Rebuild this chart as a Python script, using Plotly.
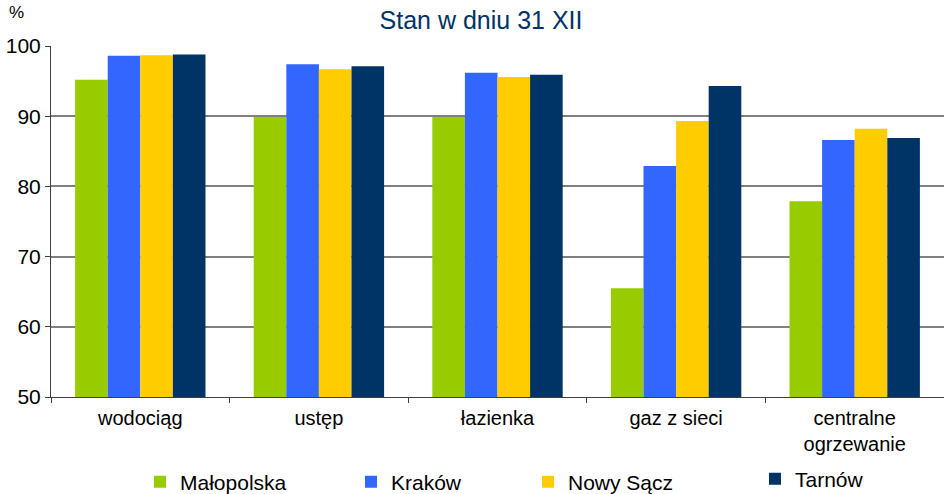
import plotly.graph_objects as go

categories = ["wodociąg", "ustęp", "łazienka", "gaz z sieci", "centralne<br>ogrzewanie"]
series_names = ["Małopolska", "Kraków", "Nowy Sącz", "Tarnów"]
malopolska = [95.2, 89.9, 89.9, 65.5, 77.9]
krakow = [98.6, 97.4, 96.2, 82.9, 86.6]
nowy_sacz = [98.7, 96.7, 95.6, 89.3, 88.2]
tarnow = [98.8, 97.1, 95.9, 94.3, 86.9]
series_values = [malopolska, krakow, nowy_sacz, tarnow]
colors = ["#99CC00", "#3366FF", "#FFCC00", "#003366"]
y_ticks = [50, 60, 70, 80, 90, 100]

FONT = "Liberation Sans, Arial, sans-serif"
W, H = 944, 494
ML, MR, MT, MB = 51, 0, 46, 97
PW = W - ML - MR
PH = H - MT - MB

# legend entries placed individually along the bottom (container pixels)
legend_px = [140, 351, 528, 755]
legend_py = [482, 482, 482, 479]
legend_ids = ["legend", "legend2", "legend3", "legend4"]

fig = go.Figure()
for name, vals, col, lid in zip(series_names, series_values, colors, legend_ids):
    fig.add_trace(go.Bar(
        x=categories, y=vals, name=name, marker_color=col,
        marker_line_width=0, legend=lid,
    ))

layout_legends = {}
for lid, px, py in zip(legend_ids, legend_px, legend_py):
    layout_legends[lid] = dict(
        xref="container", yref="container",
        x=px / W, y=1 - py / H,
        xanchor="left", yanchor="middle",
        orientation="h", bgcolor="rgba(0,0,0,0)",
        font=dict(family=FONT, size=21, color="#000000"),
        itemsizing="constant",
    )

fig.update_layout(
    width=W, height=H,
    margin=dict(l=ML, r=MR, t=MT, b=MB, pad=0),
    paper_bgcolor="white", plot_bgcolor="white",
    barmode="group", bargap=0.27, bargroupgap=0,
    title=dict(text="Stan w dniu 31 XII", x=481 / W, xanchor="center",
               y=1 - 20 / H, yanchor="middle",
               font=dict(family=FONT, size=25, color="#003366")),
    font=dict(family=FONT, size=20, color="#000000"),
    xaxis=dict(
        type="category", tickson="boundaries", ticks="outside", ticklen=5,
        tickcolor="#404040", showline=True, linecolor="#404040", linewidth=1,
        showgrid=False, automargin=False, ticklabelstandoff=3,
        tickfont=dict(family=FONT, size=20, color="#000000"),
    ),
    yaxis=dict(
        range=[50, 100], tickvals=y_ticks, ticks="outside", ticklen=5,
        tickcolor="#404040", showline=True, linecolor="#404040", linewidth=1,
        showgrid=True, gridcolor="#808080", gridwidth=1.5, zeroline=False,
        automargin=False,
        tickfont=dict(family=FONT, size=21, color="#000000"),
    ),
    showlegend=True,
    annotations=[dict(text="%", xref="paper", yref="paper",
                      x=(7 - ML) / PW, y=(MT + PH - 12) / PH,
                      xanchor="left", yanchor="middle", showarrow=False,
                      font=dict(family=FONT, size=17, color="#000000"))],
    **layout_legends,
)

fig.write_html("out.html")
